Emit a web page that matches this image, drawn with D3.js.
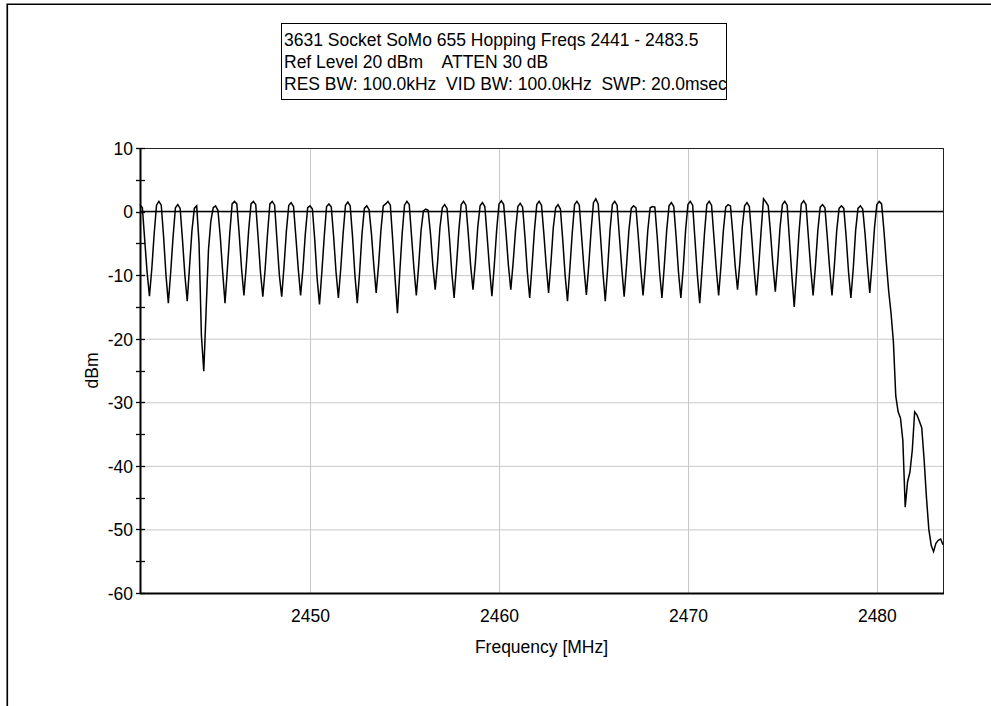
<!DOCTYPE html>
<html>
<head>
<meta charset="utf-8">
<script src="https://cdn.jsdelivr.net/npm/d3@7"></script>
<style>
  body { margin: 0; background: #fff; }
  text { font-family: "Liberation Sans", Arial, sans-serif; font-size: 17.5px; fill: #000; }
</style>
</head>
<body>
<div id="chart"></div>
<script>
// analyzer sweep: first point and spacing (MHz)
var freqStart = 2441;
var freqStep = 0.125;

// trace levels in dBm, one row per MHz (8 sweep points each)
var levels = [
  1.1, 0.6, -4.5, -9.5, -13.3, -9, -3.5, 1.0,       // 2441
  1.6, 1.0, -4, -10, -14.4, -9.5, -4, 0.6,          // 2442
  1.1, 0.5, -4.5, -10, -14.1, -8.5, -3, 0.5,        // 2443
  0.9, -5, -19.5, -25.1, -15.5, -6, -1.5, 0.6,      // 2444
  0.9, 0.2, -4, -9.5, -14.4, -9, -3.5, 1.2,         // 2445
  1.6, 1.2, -3.5, -9, -13.2, -8.5, -3, 1.2,         // 2446
  1.6, 1.1, -4, -9.5, -13.4, -9, -3.5, 1.2,         // 2447
  1.6, 1.0, -4.5, -10, -13.4, -8.5, -3, 1.0,        // 2448
  1.4, 0.8, -4, -9, -13.2, -9, -3.5, 0.6,           // 2449
  0.9, 0.4, -4.5, -10.5, -14.6, -9.5, -4, 0.8,      // 2450
  1.2, 0.7, -4, -9.5, -13.6, -9, -3.5, 1.0,         // 2451
  1.5, 0.9, -4, -10, -14.4, -9.5, -3.5, 0.5,        // 2452
  0.9, 0.3, -3.5, -8.5, -12.8, -8.5, -3, 0.9,       // 2453
  1.2, 1.6, 1.0, -4.5, -10.5, -16.0, -9.5, -3.5,    // 2454
  1.0, 1.6, 1.1, -4, -9, -13.2, -8.5, -3,           // 2455
  0.1, 0.4, 0.2, -3.5, -8.5, -12.3, -8, -2.5,       // 2456
  0.6, 1.1, 0.5, -4, -9.5, -13.6, -8.5, -3,         // 2457
  1.1, 1.6, 1.0, -3.5, -8.5, -12.3, -8, -2.5,       // 2458
  0.9, 1.4, 0.8, -4, -9, -13.3, -8.5, -3,           // 2459
  1.2, 1.7, 1.1, -3.5, -8.5, -12.3, -8, -3,         // 2460
  0.8, 1.3, 0.7, -4, -9.5, -13.6, -8.5, -3,         // 2461
  1.1, 1.6, 1.0, -3.5, -8.5, -12.8, -8, -2.5,       // 2462
  0.6, 1.1, 0.4, -4.5, -10, -14.1, -9, -3.5,        // 2463
  1.1, 1.6, 1.0, -4, -9, -13.1, -8.5, -3,           // 2464
  1.4, 2.0, 1.2, -4, -9.5, -14.1, -9, -3,           // 2465
  1.1, 1.6, 1.0, -4, -9, -13.4, -8.5, -3,           // 2466
  0.5, 0.9, 0.6, -4, -9, -13.2, -8.5, -3,           // 2467
  0.6, 0.8, 0.7, -4, -9.5, -13.6, -8.5, -3,         // 2468
  0.9, 1.4, 0.8, -4, -9.5, -13.6, -9, -3,           // 2469
  1.1, 1.6, 1.0, -4.5, -10, -14.4, -9, -3.5,        // 2470
  1.1, 1.6, 1.0, -4, -9, -13.2, -8.5, -3,           // 2471
  0.7, 1.1, 0.9, -3.5, -8.5, -12.3, -8, -2.5,       // 2472
  0.9, 1.4, 0.8, -4, -9, -13.2, -8.5, -3,           // 2473
  2.0, 1.5, 0.9, -3.5, -8.5, -12.6, -8, -2.5,       // 2474
  1.1, 1.6, 1.0, -4.5, -10, -15.0, -9.5, -3.5,      // 2475
  1.2, 1.7, 1.1, -4, -9, -13.2, -8.5, -3,           // 2476
  0.7, 1.1, 0.6, -4, -9, -13.2, -8.5, -3,           // 2477
  0.5, 0.9, 0.5, -4, -9.5, -13.6, -9, -3,           // 2478
  0.5, 0.9, 0.4, -3.5, -8.5, -12.8, -8, -2.5,       // 2479
  1.1, 1.6, 1.2, -3, -8, -12.5, -16, -20.5,         // 2480
  -29, -31.5, -32.5, -36, -46.5, -42.5, -41, -37.5, // 2481
  -31.5, -32, -33, -34, -39, -45, -50, -52.5,       // 2482
  -53.5, -52.2, -51.7, -51.5, -52.4                 // 2483
];

var xTicks = [2450, 2460, 2470, 2480];
var yTicks = [10, 0, -10, -20, -30, -40, -50, -60];
var yMinorTicks = [5, -5, -15, -25, -35, -45, -55];
var titleLines = [
  "3631 Socket SoMo 655 Hopping Freqs 2441 - 2483.5",
  "Ref Level 20 dBm    ATTEN 30 dB",
  "RES BW: 100.0kHz  VID BW: 100.0kHz  SWP: 20.0msec"
];

var svgWidth = 991;
var svgHeight = 706;

// plot area
var margin = { top: 148, right: 48, bottom: 113, left: 140 };
var width = svgWidth - margin.left - margin.right;
var height = svgHeight - margin.top - margin.bottom;

var svg = d3.select("#chart")
  .append("svg")
  .attr("width", svgWidth)
  .attr("height", svgHeight);

// sunken window frame
svg.append("path").attr("d", "M6.5,706 V3.5 H991").attr("fill", "none").attr("stroke", "#808080").attr("stroke-width", 1);
svg.append("path").attr("d", "M7.5,706 V4.5 H991").attr("fill", "none").attr("stroke", "#000").attr("stroke-width", 1.2);

var chartGroup = svg.append("g")
  .attr("transform", `translate(${margin.left}, ${margin.top})`);

var x = d3.scaleLinear().domain([2441, 2483.5]).range([0, width]);
var y = d3.scaleLinear().domain([-60, 10]).range([height, 0]);

// grid
chartGroup.append("g")
  .selectAll("line.hgrid")
  .data(yTicks.filter(d => d > -60 && d < 10))
  .enter().append("line")
  .attr("x1", 0).attr("x2", width)
  .attr("y1", d => y(d) + 0.5).attr("y2", d => y(d) + 0.5)
  .attr("stroke", "#c8c8c8");

chartGroup.append("g")
  .selectAll("line.vgrid")
  .data(xTicks)
  .enter().append("line")
  .attr("x1", d => Math.round(x(d)) + 0.5).attr("x2", d => Math.round(x(d)) + 0.5)
  .attr("y1", 0).attr("y2", height)
  .attr("stroke", "#c8c8c8");

// plot border
chartGroup.append("rect")
  .attr("x", 0.5).attr("y", 0.5)
  .attr("width", width).attr("height", height)
  .attr("fill", "none")
  .attr("stroke", "#222");

// zero reference line
chartGroup.append("line")
  .attr("x1", 0).attr("x2", width)
  .attr("y1", y(0)).attr("y2", y(0))
  .attr("stroke", "#000").attr("stroke-width", 1.5);

// trace
var trace = levels.map((v, i) => [freqStart + i * freqStep, v]);
var line = d3.line().x(d => x(d[0])).y(d => y(d[1]));
chartGroup.append("path")
  .datum(trace)
  .attr("d", line)
  .attr("fill", "none")
  .attr("stroke", "#000")
  .attr("stroke-width", 1.5);

// axes
var leftAxis = d3.axisLeft(y).tickValues(yTicks).tickSize(0).tickPadding(7).tickFormat(d => String(d));
var bottomAxis = d3.axisBottom(x).tickValues(xTicks).tickSize(0).tickPadding(17).tickFormat(d => String(d));

var gy = chartGroup.append("g").call(leftAxis);
var gx = chartGroup.append("g").attr("transform", `translate(0, ${height})`).call(bottomAxis);
gy.select(".domain").remove();
gx.select(".domain").remove();
gy.selectAll("text").attr("font-size", null).attr("font-family", null).attr("dy", "0.36em");
gx.selectAll("text").attr("font-size", null).attr("font-family", null);

// tick marks crossing the y axis
chartGroup.append("g")
  .selectAll("line")
  .data(yTicks.concat(yMinorTicks))
  .enter().append("line")
  .attr("x1", -4).attr("x2", 5)
  .attr("y1", d => Math.round(y(d)) + 0.5).attr("y2", d => Math.round(y(d)) + 0.5)
  .attr("stroke", "#000").attr("stroke-width", 1.3);

// heavy axis lines
chartGroup.append("line")
  .attr("x1", 0.5).attr("x2", 0.5).attr("y1", 0).attr("y2", height + 1)
  .attr("stroke", "#000").attr("stroke-width", 2);
chartGroup.append("line")
  .attr("x1", 0).attr("x2", width + 1).attr("y1", height + 0.5).attr("y2", height + 0.5)
  .attr("stroke", "#000").attr("stroke-width", 2);

// axis titles
chartGroup.append("text")
  .attr("transform", `translate(${width / 2}, ${height + 60})`)
  .attr("text-anchor", "middle")
  .text("Frequency [MHz]");

chartGroup.append("text")
  .attr("transform", "rotate(-90)")
  .attr("x", -(y(-25)))
  .attr("y", -42)
  .attr("text-anchor", "middle")
  .text("dBm");

// title box
var titleBox = svg.append("g").attr("transform", "translate(281.5, 23.5)");
titleBox.append("rect")
  .attr("width", 445).attr("height", 76)
  .attr("fill", "#fff").attr("stroke", "#000");
titleBox.selectAll("text")
  .data(titleLines)
  .enter().append("text")
  .attr("x", 2.5)
  .attr("y", (d, i) => 22.5 + i * 22)
  .attr("xml:space", "preserve")
  .text(d => d);
</script>
</body>
</html>
